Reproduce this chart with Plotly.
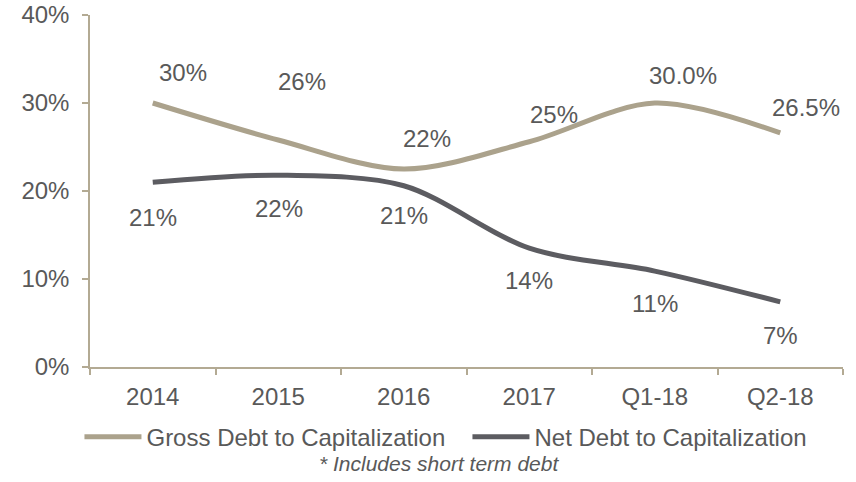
import plotly.graph_objects as go

categories = ["2014", "2015", "2016", "2017", "Q1-18", "Q2-18"]
gross = [0.300, 0.258, 0.225, 0.256, 0.300, 0.266]
net = [0.210, 0.218, 0.206, 0.135, 0.109, 0.074]
gross_labels = ["30%", "26%", "22%", "25%", "30.0%", "26.5%"]
net_labels = ["21%", "22%", "21%", "14%", "11%", "7%"]

# label offsets in pixels (xshift, yshift)
gross_offsets = [(30, 31), (24, 58), (23, 31), (25, 27), (28, 28), (26, 25)]
net_offsets = [(0, -35), (1, -33), (0, -30), (0, -32), (0, -32), (0, -34)]

GROSS_C = "#ABA28C"
NET_C = "#5C5C61"
AXIS_C = "#B3AA93"
TEXT_C = "#595959"
FONT = "Liberation Sans, Arial, sans-serif"
FS = 24

fig = go.Figure()
fig.add_trace(go.Scatter(x=categories, y=gross, mode="lines", name="Gross Debt to Capitalization",
                         line=dict(color=GROSS_C, width=5, shape="spline", smoothing=0.9)))
fig.add_trace(go.Scatter(x=categories, y=net, mode="lines", name="Net Debt to Capitalization",
                         line=dict(color=NET_C, width=5, shape="spline", smoothing=0.9)))

for i, (v, lab, (dx, dy)) in enumerate(zip(gross, gross_labels, gross_offsets)):
    fig.add_annotation(x=i, y=v, text=lab, showarrow=False, xshift=dx, yshift=dy,
                       font=dict(family=FONT, size=FS, color=TEXT_C))
for i, (v, lab, (dx, dy)) in enumerate(zip(net, net_labels, net_offsets)):
    fig.add_annotation(x=i, y=v, text=lab, showarrow=False, xshift=dx, yshift=dy,
                       font=dict(family=FONT, size=FS, color=TEXT_C))

fig.add_annotation(x=0.4635, y=-0.273, xref="paper", yref="paper", xanchor="center", yanchor="middle",
                   text="<i>* Includes short term debt</i>", showarrow=False,
                   font=dict(family=FONT, size=21, color=TEXT_C))

fig.update_layout(
    width=856, height=482,
    margin=dict(l=90, r=13, t=15, b=115),
    paper_bgcolor="white", plot_bgcolor="white",
    font=dict(family=FONT, size=FS, color=TEXT_C),
    showlegend=True,
    legend=dict(orientation="h", x=-0.014, xanchor="left", y=-0.199, yanchor="middle",
                itemwidth=57, entrywidth=316, font=dict(family=FONT, size=FS, color=TEXT_C),
                bgcolor="rgba(0,0,0,0)"),
    xaxis=dict(type="category", range=[-0.5, 5.5], showline=True, linecolor=AXIS_C, linewidth=1.5,
               ticks="outside", tickson="boundaries", ticklen=6, tickcolor=AXIS_C, tickwidth=1.5,
               showgrid=False, zeroline=False, ticklabelstandoff=7, automargin=False,
               tickfont=dict(family=FONT, size=FS, color=TEXT_C)),
    yaxis=dict(range=[0, 0.4], tickvals=[0, 0.1, 0.2, 0.3, 0.4], tickformat=".0%",
               showline=True, linecolor=AXIS_C, linewidth=1.5, ticks="outside", ticklen=6,
               tickcolor=AXIS_C, tickwidth=1.5, showgrid=False, zeroline=False, automargin=False,
               ticklabelstandoff=8, tickfont=dict(family=FONT, size=FS, color=TEXT_C)),
)

fig.write_html("out.html")
